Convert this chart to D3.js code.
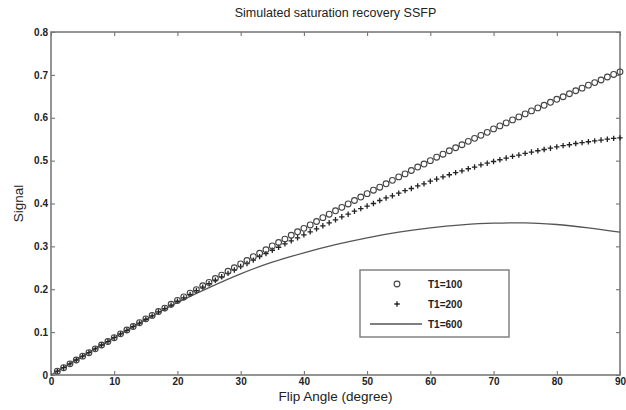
<!DOCTYPE html>
<html lang="en">
<head>
  <meta charset="UTF-8" />
  <title>Simulated saturation recovery SSFP</title>
  <script src="https://d3js.org/d3.v7.min.js"></script>
  <style>
    body {
      margin: 0;
      background: #fff;
      font-family: 'Liberation Sans', Arial, sans-serif;
    }
    svg {
      display: block;
    }
    .tick text {
      font-size: 10px;
      font-weight: bold;
      fill: #222;
    }
    .tick line {
      stroke: #666;
    }
    .title {
      font-size: 12.5px;
      fill: #222;
    }
    .axis-label {
      font-size: 13.5px;
      fill: #222;
    }
    .legend-text {
      font-size: 10px;
      font-weight: bold;
      fill: #222;
    }
  </style>
</head>
<body>
<svg width="626" height="410"></svg>

<script>
// flip angles (degrees) for the marker series
const angles = d3.range(1, 91);

// signal, T1=100 (circles)
const t100 = [
  0.009,0.017,0.026,0.035,0.044,0.052,0.061,0.070,0.078,0.087,
  0.096,0.105,0.113,0.122,0.131,0.139,0.148,0.156,0.165,0.174,
  0.182,0.191,0.199,0.208,0.216,0.225,0.233,0.242,0.250,0.259,
  0.267,0.276,0.284,0.292,0.301,0.309,0.317,0.326,0.334,0.342,
  0.350,0.358,0.367,0.375,0.383,0.391,0.399,0.407,0.415,0.423,
  0.431,0.438,0.446,0.454,0.462,0.469,0.477,0.485,0.492,0.500,
  0.508,0.515,0.523,0.530,0.537,0.545,0.552,0.559,0.566,0.574,
  0.581,0.588,0.595,0.602,0.609,0.616,0.623,0.629,0.636,0.643,
  0.649,0.656,0.663,0.669,0.676,0.682,0.688,0.695,0.701,0.707
];

// signal, T1=200 (plus signs)
const t200 = [
  0.009,0.017,0.026,0.035,0.044,0.052,0.061,0.070,0.078,0.087,
  0.096,0.104,0.113,0.121,0.130,0.138,0.147,0.155,0.163,0.172,
  0.180,0.188,0.197,0.205,0.213,0.221,0.229,0.237,0.245,0.253,
  0.260,0.268,0.276,0.283,0.291,0.298,0.306,0.313,0.320,0.327,
  0.334,0.341,0.348,0.355,0.362,0.369,0.375,0.382,0.388,0.394,
  0.400,0.407,0.413,0.418,0.424,0.430,0.435,0.441,0.446,0.452,
  0.457,0.462,0.467,0.472,0.476,0.481,0.485,0.490,0.494,0.498,
  0.502,0.506,0.510,0.513,0.517,0.520,0.523,0.526,0.529,0.532,
  0.535,0.537,0.540,0.542,0.544,0.546,0.548,0.550,0.552,0.553
];

// signal, T1=600 (solid line)
const lineAngles = [0,5,10,15,20,25,30,35,40,45,50,55,60,65,70,75,80,85,90];
const t600 = [0,0.044,0.087,0.129,0.169,0.204,0.236,0.263,0.285,0.304,
              0.320,0.333,0.343,0.350,0.354,0.355,0.351,0.343,0.333];

const xTicks = [0,10,20,30,40,50,60,70,80,90];
const yTicks = [0,0.1,0.2,0.3,0.4,0.5,0.6,0.7,0.8];
const yTickLabels = ["0","0.1","0.2","0.3","0.4","0.5","0.6","0.7","0.8"];
const legendLabels = ["T1=100","T1=200","T1=600"];

const svg = d3.select("svg");
const margin = {left: 51, right: 6, top: 32, bottom: 35};
const W = 626, H = 410;

const x = d3.scaleLinear().domain([0, 90]).range([margin.left, W - margin.right]);
const y = d3.scaleLinear().domain([0, 0.8]).range([H - margin.bottom, margin.top]);

// axes with inward ticks on all four sides
svg.append("g")
  .attr("transform", `translate(0,${y(0)})`)
  .call(d3.axisBottom(x).tickValues(xTicks).tickSizeInner(-4).tickSizeOuter(0).tickPadding(3))
  .call(g => g.select(".domain").remove());

svg.append("g")
  .attr("transform", `translate(0,${y(0.8)})`)
  .call(d3.axisTop(x).tickValues(xTicks).tickSizeInner(-4).tickSizeOuter(0).tickFormat(""))
  .call(g => g.select(".domain").remove());

svg.append("g")
  .attr("transform", `translate(${x(0)},0)`)
  .call(d3.axisLeft(y).tickValues(yTicks).tickSizeInner(-4).tickSizeOuter(0).tickPadding(3)
    .tickFormat((d, i) => yTickLabels[i]))
  .call(g => g.select(".domain").remove());

svg.append("g")
  .attr("transform", `translate(${x(90)},0)`)
  .call(d3.axisRight(y).tickValues(yTicks).tickSizeInner(-4).tickSizeOuter(0).tickFormat(""))
  .call(g => g.select(".domain").remove());

// frame
svg.append("rect")
  .attr("x", x(0)).attr("y", y(0.8))
  .attr("width", x(90) - x(0)).attr("height", y(0) - y(0.8))
  .attr("fill", "none").attr("stroke", "#7a7a7a").attr("stroke-width", 1.6);

// T1=600 line
svg.append("path")
  .datum(lineAngles.map((a, i) => [a, t600[i]]))
  .attr("fill", "none")
  .attr("stroke", "#555")
  .attr("stroke-width", 1.3)
  .attr("d", d3.line().x(d => x(d[0])).y(d => y(d[1])).curve(d3.curveMonotoneX));

// T1=200 plus markers
svg.append("g").selectAll("path")
  .data(angles.map((a, i) => [a, t200[i]]))
  .join("path")
  .attr("d", d => `M${x(d[0]) - 2.7},${y(d[1])}h5.4M${x(d[0])},${y(d[1]) - 2.7}v5.4`)
  .attr("stroke", "#222")
  .attr("stroke-width", 1.3);

// T1=100 circle markers
svg.append("g").selectAll("circle")
  .data(angles.map((a, i) => [a, t100[i]]))
  .join("circle")
  .attr("cx", d => x(d[0]))
  .attr("cy", d => y(d[1]))
  .attr("r", 2.9)
  .attr("fill", "none")
  .attr("stroke", "#444")
  .attr("stroke-width", 1.1);

// title and axis labels
svg.append("text")
  .attr("class", "title")
  .attr("x", (x(0) + x(90)) / 2).attr("y", 17)
  .attr("text-anchor", "middle")
  .text("Simulated saturation recovery SSFP");

svg.append("text")
  .attr("class", "axis-label")
  .attr("x", (x(0) + x(90)) / 2).attr("y", 401)
  .attr("text-anchor", "middle")
  .text("Flip Angle (degree)");

svg.append("text")
  .attr("class", "axis-label")
  .attr("transform", `translate(23,${(y(0) + y(0.8)) / 2}) rotate(-90)`)
  .attr("text-anchor", "middle")
  .text("Signal");

// legend
const lg = svg.append("g").attr("transform", "translate(360,270)");
lg.append("rect")
  .attr("width", 149).attr("height", 67)
  .attr("fill", "#fff").attr("stroke", "#7a7a7a").attr("stroke-width", 1.4);

const rowY = i => 14 + i * 20;
lg.append("circle").attr("cx", 37).attr("cy", rowY(0)).attr("r", 2.9)
  .attr("fill", "none").attr("stroke", "#444").attr("stroke-width", 1.1);
lg.append("path").attr("d", `M34.3,${rowY(1)}h5.4M37,${rowY(1) - 2.7}v5.4`)
  .attr("stroke", "#222").attr("stroke-width", 1.3);
lg.append("line").attr("x1", 10).attr("x2", 62).attr("y1", rowY(2)).attr("y2", rowY(2))
  .attr("stroke", "#555").attr("stroke-width", 1.3);

lg.selectAll("text.legend-text")
  .data(legendLabels)
  .join("text")
  .attr("class", "legend-text")
  .attr("x", 68)
  .attr("y", (d, i) => rowY(i))
  .attr("dy", "0.35em")
  .text(d => d);
</script>
</body>
</html>
